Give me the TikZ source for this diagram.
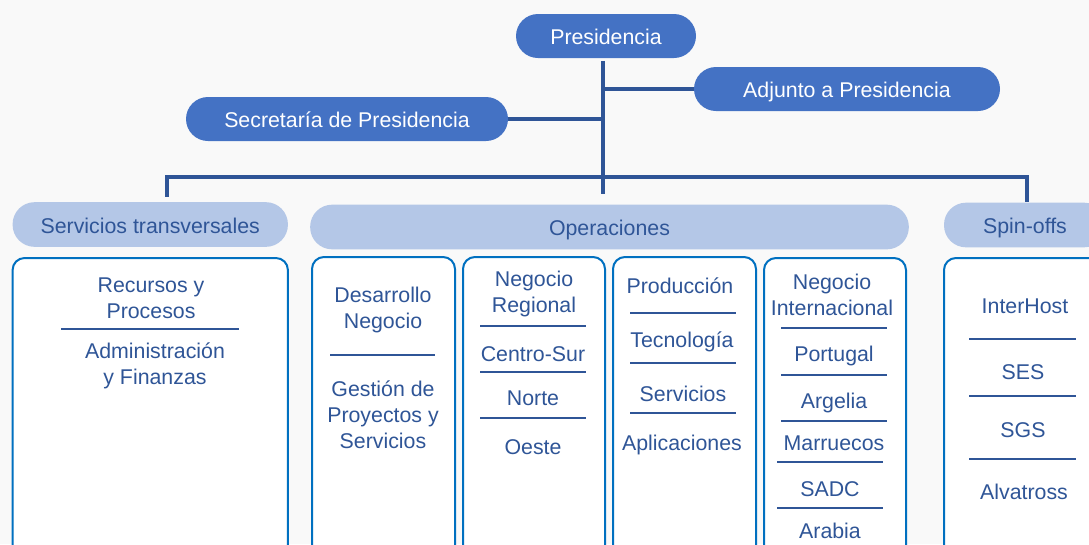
\documentclass[tikz,border=0pt]{standalone}
\usepackage{fontspec}
\setmainfont{Liberation Sans}
\definecolor{azul}{HTML}{4472C4}
\definecolor{azulclaro}{HTML}{B4C7E7}
\definecolor{azuloscuro}{HTML}{2F5597}
\definecolor{borde}{HTML}{0070C0}
\definecolor{fondo}{HTML}{F9F9F9}

\begin{document}
\begin{tikzpicture}[
		x=0.75pt, y=-0.75pt,
		% estilos comunes
		texto/.style={font=\fontsize{16}{19.5}\selectfont},
		cargo/.style={texto, fill=azul, text=white, rounded corners=16.5pt, minimum height=33pt, text height=13pt, text depth=0pt},
		area/.style={texto, fill=azulclaro, text=azuloscuro, rounded corners=16.5pt, minimum height=33.5pt, text height=13pt, text depth=0pt},
		panel/.style={draw=borde, line width=1.5pt, fill=white, rounded corners=9pt, anchor=north, minimum height=257pt},
		unidad/.style={texto, text=azuloscuro, align=center},
		enlace/.style={draw=azuloscuro, line width=2.5pt},
		sep/.style={draw=azuloscuro, line width=1.2pt}
		]
		
		% ----- fondo y recorte -----
		\useasboundingbox (0,0) rectangle (1089,544);
		\fill[fondo] (0,0) rectangle (1089,544);
		\clip (0,0) rectangle (1089,544);
		
		% ----- 1. direccion -----
		\node[cargo, minimum width=135pt] (pres) at (606,36) {Presidencia};
		\node[cargo, minimum width=229.5pt] (adj) at (847,89) {Adjunto a Presidencia};
		\node[cargo, minimum width=241.5pt] (secr) at (347,119) {Secretaría de Presidencia};
		
		% ----- 2. areas -----
		\node[area, minimum width=206.5pt] (serv) at (150.25,224.5) {Servicios transversales};
		\node[area, minimum width=449pt] (oper) at (609.5,227) {Operaciones};
		\node[area, minimum width=121.5pt] (spin) at (1025,225) {Spin-offs};
		
		% ----- 3. lineas de mando -----
		\coordinate (bus) at (603,177);
		\coordinate (busL) at (167,177);
		\coordinate (busR) at (1027,177);
		\draw[enlace] ([yshift=-2pt]pres.south -| bus) -- ([yshift=8pt]oper.north -| bus);
		\draw[enlace] (secr.east) -- (secr.east -| bus);
		\draw[enlace] (adj.west) -- (adj.west -| bus);
		\draw[enlace] ([yshift=3.75pt]serv.north -| busL) -- (busL) -- (busR) -- (spin.north -| busR);
		
		% ----- 4. paneles -----
		\node[panel, minimum width=206.5pt] (trans) at (150.25,257) {};
		\node[panel, minimum width=107.25pt] (desa) at (383.5,256) {};
		\node[panel, minimum width=106.5pt] (regio) at (534,256) {};
		\node[panel, minimum width=107.25pt] (prod) at (684.5,256) {};
		\node[panel, minimum width=106.5pt] (inter) at (835,257) {};
		\node[panel, minimum width=120pt] (spinp) at (1024,257) {};
		
		% Servicios transversales
		\node[unidad] (rrhh) at (151,298) {Recursos y\\Procesos};
		\draw[sep] (61,329) -- (239,329);
		\node[unidad] (admin) at (155,366) {Administración\\y Finanzas};
		
		% Desarrollo
		\node[unidad] (desneg) at (383,310) {Desarrollo\\Negocio};
		\draw[sep] (330,355) -- (435,355);
		\node[unidad] (gest) at (383,415) {Gestión de\\Proyectos y\\Servicios};
		
		% Negocio regional
		\node[unidad] (negreg) at (534,294) {Negocio\\Regional};
		\node[unidad] (centro) at (533,354) {Centro-Sur};
		\node[unidad] (norte) at (533,398) {Norte};
		\node[unidad] (oeste) at (533,447) {Oeste};
		\foreach \y in {326,372,418}
			\draw[sep] (480,\y) -- (586,\y);
		
		% Produccion
		\node[unidad] (produc) at (680,286) {Producción};
		\node[unidad] (tecno) at (682,342) {Tecnología};
		\node[unidad] (servi) at (683,394) {Servicios};
		\node[unidad] (aplic) at (682,445) {Aplicaciones};
		\foreach \y in {313,363,413}
			\draw[sep] (630,\y) -- (736,\y);
		
		% Negocio internacional
		\node[unidad] (negint) at (832,295) {Negocio\\Internacional};
		\node[unidad] (portu) at (834,356) {Portugal};
		\node[unidad] (argel) at (834,403) {Argelia};
		\node[unidad] (marru) at (834,443) {Marruecos};
		\node[unidad] (sadc) at (830,489) {SADC};
		\node[unidad] (arab) at (830,531) {Arabia};
		\foreach \y in {328,375,421}
			\draw[sep] (781,\y) -- (887,\y);
		\foreach \y in {462,508}
			\draw[sep] (777,\y) -- (883,\y);
		
		% Spin-offs
		\node[unidad] (host) at (1025,306) {InterHost};
		\node[unidad] (ses) at (1023,372) {SES};
		\node[unidad] (sgs) at (1023,430) {SGS};
		\node[unidad] (alva) at (1024,492) {Alvatross};
		\foreach \y in {339,396,459}
			\draw[sep] (969,\y) -- (1076,\y);
		
	\end{tikzpicture}
\end{document}
